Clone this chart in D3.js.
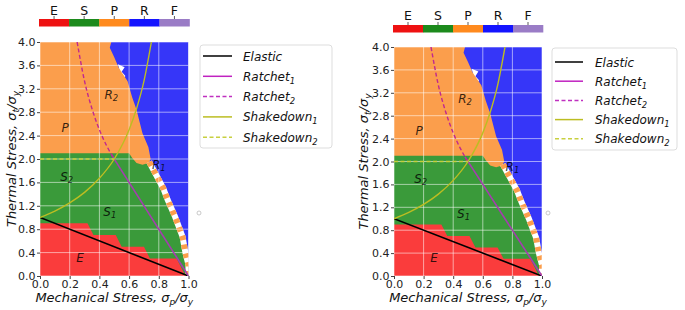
<!DOCTYPE html>
<html><head><meta charset="utf-8">
<script src="https://cdn.jsdelivr.net/npm/d3@7"></script>
<style>
body{margin:0;background:#fff;}
svg{display:block;font-family:"DejaVu Sans",sans-serif;}
</style></head><body>
<svg id="c" width="685" height="310"></svg>
<script>
// ---------- data ----------
const xTicks = [0, 0.2, 0.4, 0.6, 0.8, 1.0];
const yTicks = [0, 0.4, 0.8, 1.2, 1.6, 2.0, 2.4, 2.8, 3.2, 3.6, 4.0];
const regionCodes = ["E", "S", "P", "R", "F"];
const regionColors = ["#fa3c3c", "#3a9a3a", "#fb9e4c", "#3636f8", "#a788cc"];
const barColors = ["#ee1111", "#1c8a1c", "#ff8a1e", "#1414ff", "#9a7cc6"];

const elasticLine = [[0, 1.0], [1.0, 0]];
const ratchet1Line = [[0.48, 2.08], [1.0, 0]];
const ratchet2Line = [[0.25, 4.0], [0.3, 3.33], [0.35, 2.86], [0.4, 2.5], [0.45, 2.22], [0.5, 2.0]];
const shakedown1Line = [[0, 1.0], [0.1, 1.11], [0.2, 1.25], [0.3, 1.43], [0.4, 1.67], [0.5, 2.0], [0.6, 2.5], [0.65, 2.86], [0.7, 3.33], [0.75, 4.0]];
const shakedown2Line = [[0, 2.0], [0.5, 2.0]];

// region boundaries (data coordinates)
const elasticTop = [[0, 0.9], [0.32, 0.9], [0.36, 0.7], [0.51, 0.7], [0.55, 0.5], [0.7, 0.5], [0.74, 0.3], [0.92, 0.3], [0.96, 0.1], [0.98, 0]];
const shakedownTop = [[0, 2.1], [0.6, 2.1], [0.62, 2.02], [0.65, 1.93], [0.69, 1.9], [0.73, 1.93]];
const ratchetEdge = [[0.48, 4.0], [0.47, 3.9], [0.5, 3.74], [0.53, 3.56], [0.59, 3.33], [0.62, 3.06], [0.65, 2.84], [0.69, 2.44], [0.73, 2.2], [0.745, 2.0]];
const stripeBand = [[0.735, 1.95], [0.83, 1.5], [0.86, 1.3], [0.91, 1.01], [0.96, 0.67], [0.98, 0.39], [1.0, 0.19], [1.0, 0]];
const whiteNotch = [[0.525, 3.62], [0.57, 3.57], [0.55, 3.49], [0.575, 3.42], [0.555, 3.34], [0.54, 3.48]];

const regionLabels = [
  {t: "E", sub: "", x: 0.27, y: 0.31},
  {t: "S", sub: "1", x: 0.47, y: 1.09},
  {t: "S", sub: "2", x: 0.18, y: 1.69},
  {t: "P", sub: "", x: 0.17, y: 2.53},
  {t: "R", sub: "2", x: 0.48, y: 3.09},
  {t: "R", sub: "1", x: 0.80, y: 1.9}
];
const legendNames = [["Elastic", ""], ["Ratchet", "1"], ["Ratchet", "2"], ["Shakedown", "1"], ["Shakedown", "2"]];

// ---------- layout ----------
const panels = [
  {x0: 40, x1: 188.5, y0: 42, y1: 276, cbY: 19, cbLabY: 14.5, ylabX: 16,
   leg: {x: 200, y: 45, w: 132, h: 103, row0: 56, dy: 20.3, lx0: 203, lx1: 232, tx: 243}, dot: [199, 213]},
  {x0: 394, x1: 542, y0: 47, y1: 276, cbY: 25, cbLabY: 19.5, ylabX: 368,
   leg: {x: 552, y: 48, w: 125, h: 102, row0: 62, dy: 19.2, lx0: 555, lx1: 583, tx: 595}, dot: [548, 213]}
];

const lineStyles = [
  {data: elasticLine, color: "#000000", dash: null, w: 1.6},
  {data: ratchet1Line, color: "#a63cb0", dash: null, w: 1.6},
  {data: ratchet2Line, color: "#c0288f", dash: "4,2.5", w: 1.4},
  {data: shakedown1Line, color: "#bcbd22", dash: null, w: 1.4},
  {data: shakedown2Line, color: "#c4cf3a", dash: "4,2.5", w: 1.4}
];
const legendColors = ["#000000", "#c022c0", "#c030c0", "#bcbd22", "#c8d040"];

const svg = d3.select("#c");

function addSubText(sel, main, sub, fs) {
  sel.append("tspan").text(main);
  if (sub) sel.append("tspan").attr("font-size", fs * 0.7).attr("dy", fs * 0.25).text(sub);
}

panels.forEach((P, pi) => {
  const g = svg.append("g");
  const x = d3.scaleLinear().domain([0, 1]).range([P.x0, P.x1]);
  const y = d3.scaleLinear().domain([0, 4]).range([P.y1, P.y0]);
  const clipId = "clip" + pi;
  svg.append("clipPath").attr("id", clipId).append("rect")
    .attr("x", P.x0).attr("y", P.y0).attr("width", P.x1 - P.x0).attr("height", P.y1 - P.y0);
  const pg = g.append("g").attr("clip-path", `url(#${clipId})`);
  const line = d3.line().x(d => x(d[0])).y(d => y(d[1]));

  // R (blue) background
  pg.append("rect").attr("x", P.x0).attr("y", P.y0).attr("width", P.x1 - P.x0).attr("height", P.y1 - P.y0)
    .attr("fill", regionColors[3]);
  pg.append("path").attr("d", line(whiteNotch) + "Z").attr("fill", "#ffffff");
  // P (orange)
  pg.append("path").attr("d", line([[0, 0], [0, 4]].concat(ratchetEdge, stripeBand, [[0, 0]])) + "Z")
    .attr("fill", regionColors[2]);
  // S (green)
  pg.append("path").attr("d", line([[0, 0]].concat(shakedownTop, stripeBand, [[0, 0]])) + "Z")
    .attr("fill", regionColors[1]);
  // stripes
  pg.append("path").attr("d", line(stripeBand)).attr("fill", "none").attr("stroke", "#ffffff").attr("stroke-width", 6);
  pg.append("path").attr("d", line(stripeBand)).attr("fill", "none").attr("stroke", regionColors[2])
    .attr("stroke-width", 6).attr("stroke-dasharray", "4.5,4.5");
  // E (red)
  pg.append("path").attr("d", line([[0, 0]].concat(elasticTop, [[0, 0]])) + "Z").attr("fill", regionColors[0]);

  // grid
  pg.selectAll(".gx").data(xTicks).enter().append("line")
    .attr("x1", d => x(d)).attr("x2", d => x(d)).attr("y1", P.y0).attr("y2", P.y1)
    .attr("stroke", "#ffffff").attr("stroke-opacity", 0.55).attr("stroke-width", 1);
  pg.selectAll(".gy").data(yTicks).enter().append("line")
    .attr("y1", d => y(d)).attr("y2", d => y(d)).attr("x1", P.x0).attr("x2", P.x1)
    .attr("stroke", "#ffffff").attr("stroke-opacity", 0.55).attr("stroke-width", 1);

  // boundary lines
  const curve = d3.line().x(d => x(d[0])).y(d => y(d[1])).curve(d3.curveMonotoneX);
  lineStyles.forEach(s => {
    pg.append("path").attr("d", curve(s.data)).attr("fill", "none").attr("stroke", s.color)
      .attr("stroke-width", s.w).attr("stroke-dasharray", s.dash);
  });

  // region labels
  regionLabels.forEach(L => {
    const t = g.append("text").attr("x", x(L.x)).attr("y", y(L.y)).attr("text-anchor", "middle")
      .attr("dominant-baseline", "middle").attr("font-style", "italic").attr("font-size", 12)
      .attr("fill", "#000").attr("fill-opacity", 0.8);
    addSubText(t, L.t, L.sub, 12);
  });

  // axes
  const xa = d3.axisBottom(x).tickValues(xTicks).tickFormat(d3.format(".1f")).tickSize(3).tickPadding(1.5);
  const ya = d3.axisLeft(y).tickValues(yTicks).tickFormat(d3.format(".1f")).tickSize(3).tickPadding(1.5);
  const gx = g.append("g").attr("transform", `translate(0,${P.y1})`).call(xa);
  const gy = g.append("g").attr("transform", `translate(${P.x0},0)`).call(ya);
  [gx, gy].forEach(a => {
    a.select(".domain").remove();
    a.selectAll("text").attr("font-size", 11).attr("fill", "#222").attr("font-family", "DejaVu Sans");
    a.selectAll("line").attr("stroke", "#444");
  });

  // axis labels
  const xl = g.append("text").attr("x", (P.x0 + P.x1) / 2).attr("y", 302).attr("text-anchor", "middle")
    .attr("font-style", "italic").attr("font-size", 13).attr("fill", "#111");
  xl.append("tspan").text("Mechanical Stress, σ");
  xl.append("tspan").attr("font-size", 9).attr("dy", 3).text("p");
  xl.append("tspan").attr("dy", -3).text("/σ");
  xl.append("tspan").attr("font-size", 9).attr("dy", 3).text("y");

  const yl = g.append("text").attr("transform", `translate(${P.ylabX},${(P.y0 + P.y1) / 2}) rotate(-90)`)
    .attr("text-anchor", "middle").attr("font-style", "italic").attr("font-size", 13).attr("fill", "#111");
  yl.append("tspan").text("Thermal Stress, σ");
  yl.append("tspan").attr("font-size", 9).attr("dy", 3).text("t");
  yl.append("tspan").attr("dy", -3).text("/σ");
  yl.append("tspan").attr("font-size", 9).attr("dy", 3).text("y");

  // colorbar
  const cb = d3.scaleBand().domain(regionCodes).range([P.x0 - 1, P.x1 + 1]);
  g.selectAll(".cb").data(regionCodes).enter().append("rect")
    .attr("x", d => cb(d)).attr("y", P.cbY).attr("width", cb.bandwidth() + 0.3).attr("height", 7.5)
    .attr("fill", (d, i) => barColors[i]);
  g.selectAll(".cbt").data(regionCodes).enter().append("line")
    .attr("x1", d => cb(d) + cb.bandwidth() / 2).attr("x2", d => cb(d) + cb.bandwidth() / 2)
    .attr("y1", P.cbY).attr("y2", P.cbY - 3).attr("stroke", "#333").attr("stroke-width", 0.8);
  g.selectAll(".cbl").data(regionCodes).enter().append("text")
    .attr("x", d => cb(d) + cb.bandwidth() / 2).attr("y", P.cbLabY).attr("text-anchor", "middle")
    .attr("font-size", 12.5).attr("fill", "#111").text(d => d);

  // legend
  const L = P.leg;
  g.append("rect").attr("x", L.x).attr("y", L.y).attr("width", L.w).attr("height", L.h).attr("rx", 3)
    .attr("fill", "#ffffff").attr("fill-opacity", 0.9).attr("stroke", "#dddddd").attr("stroke-width", 1);
  legendNames.forEach((n, i) => {
    const yy = L.row0 + i * L.dy;
    g.append("line").attr("x1", L.lx0).attr("x2", L.lx1).attr("y1", yy).attr("y2", yy)
      .attr("stroke", legendColors[i]).attr("stroke-width", 1.5).attr("stroke-dasharray", lineStyles[i].dash);
    const t = g.append("text").attr("x", L.tx).attr("y", yy + 4.5).attr("font-style", "italic")
      .attr("font-size", 12).attr("fill", "#111");
    addSubText(t, n[0], n[1], 12);
  });

  // small marker to the right of the plot
  g.append("circle").attr("cx", P.dot[0]).attr("cy", P.dot[1]).attr("r", 2).attr("fill", "none")
    .attr("stroke", "#bbbbbb").attr("stroke-width", 0.8);
});
</script>
</body></html>
